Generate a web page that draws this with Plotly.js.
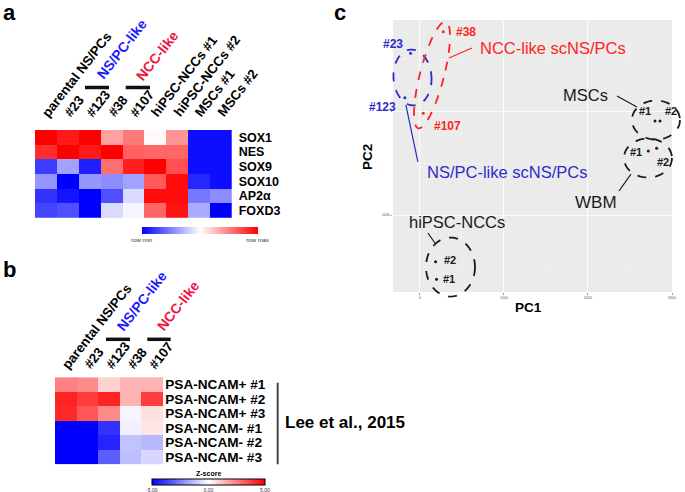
<!DOCTYPE html>
<html><head><meta charset="utf-8">
<script src="https://cdn.plot.ly/plotly-3.0.1.min.js"></script>
<style>html,body{margin:0;padding:0;background:#fff}#chart{width:685px;height:492px}</style>
</head><body><div id="chart"></div>
<script>
const W = 685, H = 492;
const FF = 'Liberation Sans, Arial, sans-serif';

// ---------- Panel a data ----------
const aColumns = ['parental NS/PCs', '#23', '#123', '#38', '#107', 'hiPSC-NCCs #1', 'hiPSC-NCCs #2', 'MSCs #1', 'MSCs #2'];
const aGenes = ['SOX1', 'NES', 'SOX9', 'SOX10', 'AP2α', 'FOXD3'];
const aSOX1  = [1.0, 0.9, 1.0, 0.37, 0.53, 0.02, 0.42, -0.95, -0.95];
const aNES   = [0.82, 1.0, 0.9, 1.0, 0.62, 0.6, 0.6, -0.95, -0.95];
const aSOX9  = [-0.76, -0.37, -0.88, 0.57, 0.88, 1.0, 0.69, -0.95, -0.95];
const aSOX10 = [-0.41, -1.0, -0.41, -0.45, -0.37, 0.65, 0.95, -0.85, -0.95];
const aAP2a  = [-0.8, -0.92, -1.0, -0.69, -0.14, 0.95, 0.95, -0.53, -0.45];
const aFOXD3 = [-0.73, -0.69, -1.0, -0.14, -0.04, 0.6, 0.92, -0.33, -1.0];

// ---------- Panel b data ----------
const bColumns = ['parental NS/PCs', '#23', '#123', '#38', '#107'];
const bSamples = ['PSA-NCAM+ #1', 'PSA-NCAM+ #2', 'PSA-NCAM+ #3', 'PSA-NCAM- #1', 'PSA-NCAM- #2', 'PSA-NCAM- #3'];
const bPos1 = [2.5, 2.3, 0.9, 1.5, 1.5];
const bPos2 = [4.3, 3.8, 4.3, 1.5, 3.8];
const bPos3 = [4.2, 3.3, 2.3, -0.2, 0.6];
const bNeg1 = [-5, -5, -4.0, -0.3, 0.5];
const bNeg2 = [-5, -5, -4.3, -1.2, -1.4];
const bNeg3 = [-5, -5, -3.2, -1.3, -0.8];

// ---------- Panel c data ----------
const pcaNames = ['#23', '#123', '#38', '#107', 'MSCs #1', 'MSCs #2', 'WBM #1', 'WBM #2', 'hiPSC-NCCs #2', 'hiPSC-NCCs #1'];
const pcaPC1 = [-111, -179, 278, 40, 2798, 2857, 2718, 2817, 187, 198];
const pcaPC2 = [555, 128, 763, -22, -96, -96, -385, -359, -1449, -1618];
const pcaGroup = ['ns', 'ns', 'ncc', 'ncc', 'k', 'k', 'k', 'k', 'k', 'k'];
const pcaXTicks = [0, 1000, 2000, 3000];
const pcaYTicks = [-1000, 0];
const pcaYTickText = ['-1000', ''];

// ---------- styling / layout geometry ----------
const BLUE = '#1a1aff', CRIMSON = '#f0143c';
const CBLUE = '#2b2bcc', CRED = '#ff2424', DARK = '#1a1a1a';
const groupColor = {ns: CBLUE, ncc: CRED, k: DARK};
const scaleBWR = [[0, '#0000ff'], [0.5, '#ffffff'], [1, '#ff0000']];
const LABEL_ANGLE = -52;

const px = p => p / W, py = p => 1 - p / H;
const aBox = {x0: 35, x1: 231.7, y0: 130, y1: 217.7};
const bBox = {x0: 55, x1: 163.3, y0: 377.3, y1: 464.3};
const cBox = {x0: 393, x1: 672, y0: 20, y1: 292};
const cXR = [-320, 3000], cYR = [-1740, 875];
const cPx = x => cBox.x0 + (x - cXR[0]) / (cXR[1] - cXR[0]) * (cBox.x1 - cBox.x0);
const cPy = y => cBox.y1 - (y - cYR[0]) / (cYR[1] - cYR[0]) * (cBox.y1 - cBox.y0);

const bold = (size, color) => ({family: FF, size: size, color: color || '#000', weight: 'bold'});
const reg = (size, color) => ({family: FF, size: size, color: color || '#000'});

const traces = [
  {
    type: 'heatmap', xaxis: 'x', yaxis: 'y',
    x: aColumns.map((_, i) => i), y: aGenes,
    z: [aSOX1, aNES, aSOX9, aSOX10, aAP2a, aFOXD3],
    zmin: -1, zmax: 1, colorscale: scaleBWR, hoverinfo: 'skip',
    colorbar: {orientation: 'h', x: px((141.7 + 257.7) / 2), xanchor: 'center',
      y: py(227), yanchor: 'top', len: 116 / W, lenmode: 'fraction', thickness: 7,
      xpad: 0, ypad: 0, outlinewidth: 0, tickvals: [-1, 1], ticktext: ['row min', 'row max'],
      ticks: '', ticklen: 0, tickfont: reg(6, '#333')}
  },
  {
    type: 'heatmap', xaxis: 'x2', yaxis: 'y2',
    x: bColumns.map((_, i) => i), y: bSamples,
    z: [bPos1, bPos2, bPos3, bNeg1, bNeg2, bNeg3],
    zmin: -5, zmax: 5, colorscale: scaleBWR, hoverinfo: 'skip',
    colorbar: {orientation: 'h', x: px((151.7 + 265) / 2), xanchor: 'center',
      y: py(478.5), yanchor: 'top', len: 113.3 / W, lenmode: 'fraction', thickness: 6,
      xpad: 0, ypad: 0, outlinewidth: 1, outlinecolor: '#000',
      tickvals: [-5, 0, 5], ticktext: ['-5.00', '0.00', '5.00'],
      ticks: '', ticklen: 0, tickfont: reg(5, '#333')}
  },
  {
    type: 'scatter', mode: 'markers', xaxis: 'x3', yaxis: 'y3',
    x: pcaPC1, y: pcaPC2, text: pcaNames, hoverinfo: 'text',
    marker: {size: 3, color: pcaGroup.map(g => groupColor[g])}
  }
];

// ---------- annotations ----------
const ann = [];
const txt = (xp, yp, text, font, extra) => ann.push(Object.assign({xref: 'paper', yref: 'paper', x: px(xp), y: py(yp),
  xanchor: 'center', yanchor: 'middle', text: text, showarrow: false, font: font}, extra || {}));
aColumns.forEach((c, i) => ann.push({xref: 'x', yref: 'paper', x: i, y: py(121), xanchor: 'left', yanchor: 'bottom',
  xshift: -8, textangle: LABEL_ANGLE, text: c, showarrow: false, font: bold(13.3), borderpad: 0}));
bColumns.forEach((c, i) => ann.push({xref: 'x2', yref: 'paper', x: i, y: py(373), xanchor: 'left', yanchor: 'bottom',
  xshift: -8, textangle: LABEL_ANGLE, text: c, showarrow: false, font: bold(13.3), borderpad: 0}));
const groupLabels = [
  {t: 'NS/PC-like', c: BLUE, p: [92, 83]}, {t: 'NCC-like', c: CRIMSON, p: [132, 85]},
  {t: 'NS/PC-like', c: BLUE, p: [112, 335]}, {t: 'NCC-like', c: CRIMSON, p: [153, 335]}
];
groupLabels.forEach(g => ann.push({xref: 'paper', yref: 'paper', x: px(g.p[0]), y: py(g.p[1]), xanchor: 'left', yanchor: 'bottom',
  textangle: LABEL_ANGLE, text: g.t, showarrow: false, font: bold(14, g.c), borderpad: 0}));
// panel letters
txt(9, 13, 'a', bold(22));
txt(9, 269, 'b', bold(22));
txt(340, 13, 'c', bold(22));
txt(345, 422, 'Lee et al., 2015', bold(17));
txt(208.5, 473, 'Z-score', bold(7));
// panel c labels (positions in data units, converted to paper so labels outside the axes still show)
const cLabels = [
  ['#23', -321, 644, bold(12, CBLUE)], ['#123', -440, 38, bold(12, CBLUE)],
  ['#38', 548, 760, bold(12, CRED)], ['#107', 333, -144, bold(12, CRED)],
  ['NCC-like scNS/PCs', 1583, 606, reg(16.5, CRED)], ['NS/PC-like scNS/PCs', 1036, -587, reg(16.5, CBLUE)],
  ['MSCs', 1976, 154, reg(16.5, DARK)], ['#1', 2679, 0, bold(11, DARK)], ['#2', 2988, 0, bold(11, DARK)],
  ['#1', 2571, -394, bold(11, DARK)], ['#2', 2893, -490, bold(11, DARK)], ['WBM', 2095, -875, reg(17, DARK)],
  ['hiPSC-NCCs', 440, -1067, reg(16.5, DARK)], ['#2', 357, -1433, bold(11, DARK)], ['#1', 345, -1615, bold(11, DARK)]
];
cLabels.forEach(l => txt(cPx(l[1]), cPy(l[2]), l[0], l[3]));
txt(367, 157, 'PC2', bold(13.5), {textangle: -90});
txt(528, 307, 'PC1', bold(13.5));

// ---------- shapes ----------
const shapes = [];
[[85, 109, 87.5], [125.7, 150, 87.5], [106, 130, 339.3], [147.3, 170.7, 339.3]].forEach(b =>
  shapes.push({type: 'line', xref: 'paper', yref: 'paper', x0: px(b[0]), x1: px(b[1]), y0: py(b[2]), y1: py(b[2]),
    line: {color: '#111', width: 3.5}}));
shapes.push({type: 'line', xref: 'paper', yref: 'paper', x0: px(277.7), x1: px(277.7), y0: py(382.7), y1: py(464.3),
  line: {color: '#444', width: 2}});
// leader lines in panel c
const leaders = [
  [345, 510, 619, 606, CRED], [-167, 58, -24, -490, CBLUE], [2345, 144, 2583, 38, DARK],
  [2512, -606, 2369, -769, DARK], [95, -1173, 179, -1269, DARK]
];
leaders.forEach(l => shapes.push({type: 'line', xref: 'x3', yref: 'y3', x0: l[0], y0: l[1], x1: l[2], y1: l[3],
  line: {color: l[4], width: 1.2}}));
// dashed ellipses (centre in data units, radii in px, rotation deg)
const ellipses = [
  {cx: -88, cy: 322, rx: 19, ry: 28, rot: -4, color: CBLUE},
  {cx: 144, cy: 346, rx: 12, ry: 55, rot: 14.5, color: CRED},
  {cx: 2809, cy: -87, rx: 24, ry: 19.5, rot: 0, color: DARK},
  {cx: 2714, cy: -452, rx: 24, ry: 19.5, rot: 0, color: DARK},
  {cx: 364, cy: -1500, rx: 24.5, ry: 29.5, rot: 0, color: DARK}
];
ellipses.forEach(e => {
  const cxp = cPx(e.cx), cyp = cPy(e.cy), th = e.rot * Math.PI / 180;
  let d = '';
  for (let k = 0; k <= 72; k++) {
    const t = k / 72 * 2 * Math.PI;
    const x = e.rx * Math.cos(t), y = e.ry * Math.sin(t);
    const X = cxp + x * Math.cos(th) - y * Math.sin(th);
    const Y = cyp + x * Math.sin(th) + y * Math.cos(th);
    d += (k === 0 ? 'M' : 'L') + px(X).toFixed(5) + ',' + py(Y).toFixed(5);
  }
  shapes.push({type: 'path', xref: 'paper', yref: 'paper', path: d + 'Z', line: {color: e.color, width: 1.8, dash: 'dash'}});
});

const hmAxis = (d) => ({domain: d, showgrid: false, zeroline: false, showticklabels: false, ticks: '', showline: false});
const layout = {
  width: W, height: H, margin: {l: 0, r: 0, t: 0, b: 0},
  paper_bgcolor: '#ffffff', plot_bgcolor: '#EBEBEB', showlegend: false,
  font: {family: FF},
  xaxis: Object.assign(hmAxis([px(aBox.x0), px(aBox.x1)]), {anchor: 'y', range: [-0.5, 8.5]}),
  yaxis: {domain: [py(aBox.y1), py(aBox.y0)], anchor: 'x', autorange: 'reversed', side: 'right', showgrid: false,
    zeroline: false, ticks: '', ticklabelstandoff: 6, tickfont: bold(12.5), tickmode: 'array', tickvals: aGenes},
  xaxis2: Object.assign(hmAxis([px(bBox.x0), px(bBox.x1)]), {anchor: 'y2', range: [-0.5, 4.5]}),
  yaxis2: {domain: [py(bBox.y1), py(bBox.y0)], anchor: 'x2', autorange: 'reversed', side: 'right', showgrid: false,
    zeroline: false, ticks: '', ticklabelstandoff: 1, tickfont: bold(13.6), tickmode: 'array', tickvals: bSamples},
  xaxis3: {domain: [px(cBox.x0), px(cBox.x1)], anchor: 'y3', range: cXR, tickmode: 'array', tickvals: pcaXTicks,
    showgrid: true, gridcolor: '#fbfbfb', gridwidth: 1, zeroline: false, ticks: 'outside', ticklen: 1.5, tickcolor: '#999',
    tickfont: reg(3.5, '#555'), minor: {tickvals: [500, 1500, 2500], showgrid: true, gridcolor: '#f3f3f3', gridwidth: 0.6}},
  yaxis3: {domain: [py(cBox.y1), py(cBox.y0)], anchor: 'x3', range: cYR, tickmode: 'array', tickvals: pcaYTicks,
    ticktext: pcaYTickText,
    showgrid: true, gridcolor: '#fbfbfb', gridwidth: 1, zeroline: false, ticks: 'outside', ticklen: 1.5, tickcolor: '#999',
    tickfont: reg(3.5, '#555'), minor: {tickvals: [-1500, -500, 500], showgrid: true, gridcolor: '#f3f3f3', gridwidth: 0.6}},
  annotations: ann, shapes: shapes
};
Plotly.newPlot('chart', traces, layout, {staticPlot: true, displayModeBar: false});
</script></body></html>
